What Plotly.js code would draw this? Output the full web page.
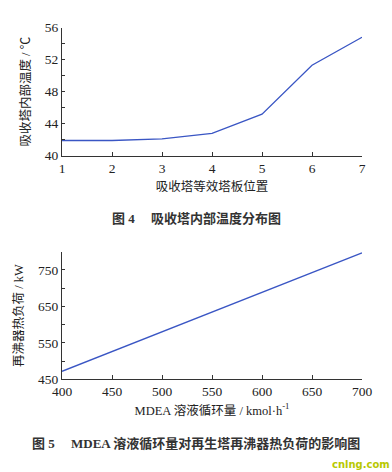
<!DOCTYPE html>
<html>
<head>
<meta charset="utf-8">
<script src="https://cdn.plot.ly/plotly-3.0.1.min.js"></script>
<style>html,body{margin:0;padding:0;background:#fff;}#chart{width:392px;height:472px;}</style>
</head>
<body>
<div id="chart"></div>
<script>
// Figure 4: absorber internal temperature profile
const stages = [1, 2, 3, 4, 5, 6, 7];
const temperature = [41.9, 41.9, 42.1, 42.8, 45.2, 51.3, 54.8];
// Figure 5: MDEA circulation vs reboiler duty
const mdeaFlow = [400, 450, 500, 550, 600, 650, 700];
const reboilerDuty = [472, 526, 580, 635, 689, 743, 797];

const FONT = '"Liberation Serif", "Times New Roman", "Noto Sans CJK SC", serif';
const lineColor = '#3a56c4';
const axisColor = '#333333';
const titleFont = {family: FONT, size: 12.5, color: '#222'};

const baseAxis = {
  showline: true, linecolor: axisColor, linewidth: 1,
  ticks: 'inside', ticklen: 3, tickcolor: axisColor, tickwidth: 1,
  showgrid: false, zeroline: false,
  tickfont: {family: FONT, size: 13.5, color: '#222'}
};

const traces = [
  {x: stages, y: temperature, type: 'scatter', mode: 'lines',
   line: {color: lineColor, width: 1.3}, xaxis: 'x', yaxis: 'y', hoverinfo: 'skip'},
  {x: mdeaFlow, y: reboilerDuty, type: 'scatter', mode: 'lines',
   line: {color: lineColor, width: 1.3}, xaxis: 'x2', yaxis: 'y2', hoverinfo: 'skip'}
];

const layout = {
  width: 392, height: 472,
  margin: {l: 0, r: 0, t: 0, b: 0},
  paper_bgcolor: '#fff', plot_bgcolor: '#fff',
  showlegend: false,
  xaxis: Object.assign({}, baseAxis, {
    domain: [0.1582, 0.9235], anchor: 'y', range: [1, 7], dtick: 1, tick0: 1,
    ticklen: 4,
    title: {text: '吸收塔等效塔板位置', standoff: 7, font: titleFont}
  }),
  yaxis: Object.assign({}, baseAxis, {
    domain: [0.6701, 0.9413], anchor: 'x', range: [40, 56], dtick: 4, tick0: 40,
    minor: {dtick: 2, ticks: 'inside', ticklen: 3, tickcolor: axisColor, showgrid: false},
    title: {text: '吸收塔内部温度 / ℃', standoff: 11, font: titleFont}
  }),
  xaxis2: Object.assign({}, baseAxis, {
    domain: [0.1582, 0.9235], anchor: 'y2', range: [400, 700], dtick: 50, tick0: 400,
    ticklen: 4,
    title: {text: 'MDEA 溶液循环量 / kmol·h<sup>-1</sup>', standoff: 7, font: titleFont}
  }),
  yaxis2: Object.assign({}, baseAxis, {
    domain: [0.1964, 0.4667], anchor: 'x2', range: [450, 800], dtick: 100, tick0: 450,
    minor: {dtick: 50, ticks: 'inside', ticklen: 3, tickcolor: axisColor, showgrid: false},
    title: {text: '再沸器热负荷 / kW', standoff: 11, font: titleFont}
  }),
  annotations: [
    {text: '<b>图 4</b>　 <b>吸收塔内部温度分布图</b>', xref: 'paper', yref: 'paper',
     x: 0.5, y: 1 - 218/472, xanchor: 'center', yanchor: 'middle', showarrow: false,
     font: {family: FONT, size: 13, color: '#333'}},
    {text: '<b>图 5</b>　 <b>MDEA 溶液循环量对再生塔再沸器热负荷的影响图</b>', xref: 'paper', yref: 'paper',
     x: 0.5, y: 1 - 443/472, xanchor: 'center', yanchor: 'middle', showarrow: false,
     font: {family: FONT, size: 13, color: '#333'}},
    {text: '<b>cnlng.com</b>', xref: 'paper', yref: 'paper',
     x: 1, y: 1 - 464/472, xanchor: 'right', yanchor: 'middle', showarrow: false,
     font: {family: '"DejaVu Sans", sans-serif', size: 10, color: '#b8c800'}}
  ]
};

Plotly.newPlot('chart', traces, layout, {staticPlot: true, displayModeBar: false});
</script>
</body>
</html>
